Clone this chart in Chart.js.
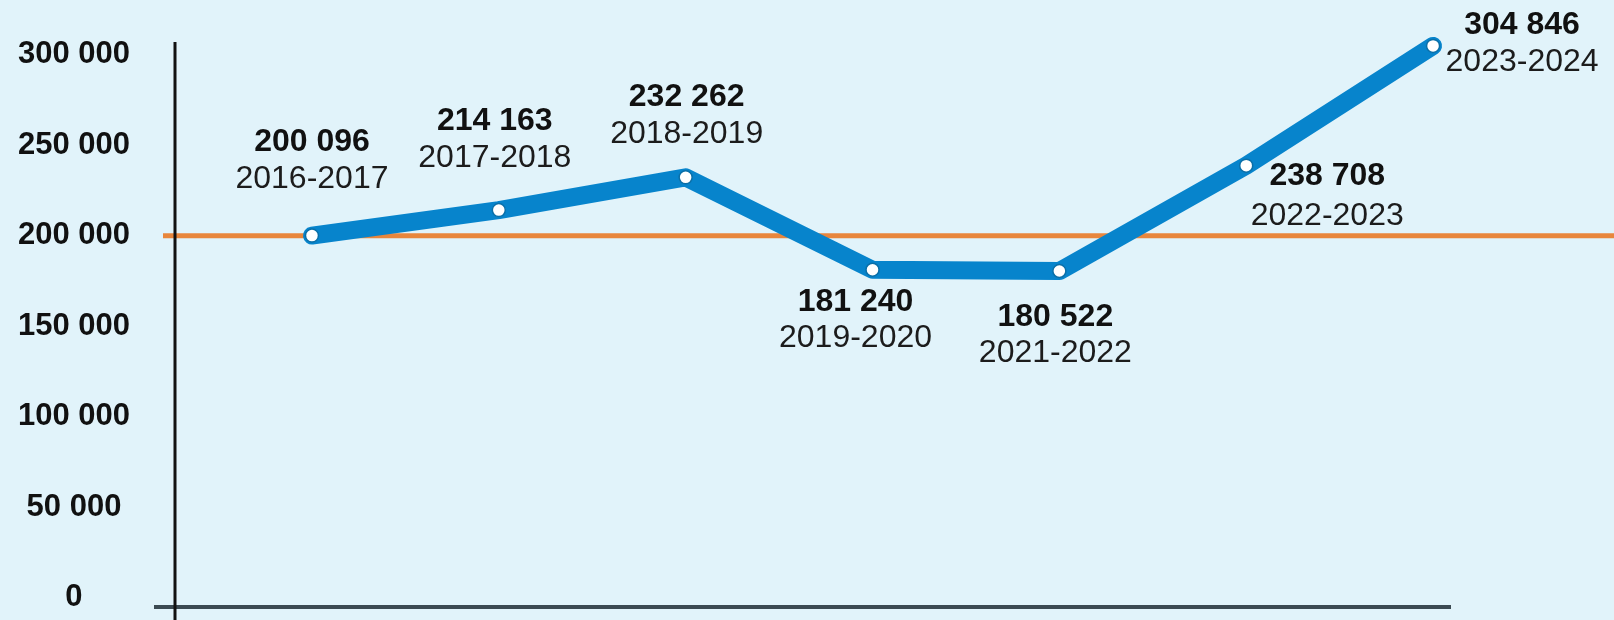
<!DOCTYPE html>
<html>
<head>
<meta charset="utf-8">
<script src="https://cdn.jsdelivr.net/npm/chart.js@4.4.1/dist/chart.umd.min.js"></script>
<style>
  html, body { margin: 0; padding: 0; background: #e1f3fa; }
  #wrap { width: 1614px; height: 620px; }
</style>
</head>
<body>
<div id="wrap"><canvas id="students"></canvas></div>
<script>
const periods = ['2016-2017', '2017-2018', '2018-2019', '2019-2020', '2021-2022', '2022-2023', '2023-2024'];
const totals = [200096, 214163, 232262, 181240, 180522, 238708, 304846];
const yTicks = [0, 50000, 100000, 150000, 200000, 250000, 300000];
const threshold = 200000;

const blue = '#0784cc';
const orange = '#e8863c';
const font = "'Liberation Sans', Arial, Helvetica, sans-serif";

// where each value / period pair sits relative to its point
const labelSpots = [
  { dx: 0, vy: -93, py: -56 },
  { dx: -4, vy: -89, py: -52 },
  { dx: 1, vy: -80, py: -43 },
  { dx: -17, vy: 32, py: 68 },
  { dx: -4, vy: 46, py: 82 },
  { dx: 81, vy: 11, py: 51 },
  { dx: 89, vy: -21, py: 16 }
];

const fmt = n => String(n).replace(/\B(?=(\d{3})+(?!\d))/g, ' ');

const guideLines = {
  id: 'guideLines',
  beforeDatasetsDraw(chart) {
    const { ctx, chartArea: a, scales: { y } } = chart;
    ctx.save();
    // 200 000 line
    const ty = y.getPixelForValue(threshold);
    ctx.strokeStyle = orange;
    ctx.lineWidth = 5;
    ctx.beginPath(); ctx.moveTo(a.left - 12, ty); ctx.lineTo(chart.width, ty); ctx.stroke();
    // axes
    ctx.strokeStyle = '#3b4a52';
    ctx.lineWidth = 4;
    ctx.beginPath(); ctx.moveTo(a.left - 21, a.bottom); ctx.lineTo(a.right, a.bottom); ctx.stroke();
    ctx.strokeStyle = '#111';
    ctx.lineWidth = 3;
    ctx.beginPath(); ctx.moveTo(a.left, a.top); ctx.lineTo(a.left, chart.height); ctx.stroke();
    ctx.restore();
  }
};

const pointLabels = {
  id: 'pointLabels',
  afterDatasetsDraw(chart) {
    const { ctx } = chart;
    const pts = chart.getDatasetMeta(0).data;
    ctx.save();
    ctx.textAlign = 'center';
    ctx.textBaseline = 'middle';
    pts.forEach((p, i) => {
      const s = labelSpots[i];
      ctx.fillStyle = '#111';
      ctx.font = 'bold 32px ' + font;
      ctx.fillText(fmt(totals[i]), p.x + s.dx, p.y + s.vy);
      ctx.fillStyle = '#1c1c1c';
      ctx.font = '32px ' + font;
      ctx.fillText(periods[i], p.x + s.dx, p.y + s.py);
    });
    ctx.restore();
  }
};

new Chart(document.getElementById('students'), {
  type: 'line',
  data: {
    datasets: [{
      data: totals.map((v, i) => ({ x: i, y: v })),
      borderColor: blue,
      borderWidth: 18,
      borderJoinStyle: 'round',
      borderCapStyle: 'round',
      pointRadius: 6.5,
      pointBackgroundColor: '#fff',
      pointBorderColor: '#0a6fa8',
      pointBorderWidth: 1.5,
      tension: 0,
      clip: false
    }]
  },
  options: {
    responsive: true,
    maintainAspectRatio: false,
    animation: false,
    layout: { padding: { top: 42, right: 163, bottom: 13, left: 0 } },
    plugins: { legend: { display: false }, tooltip: { enabled: false } },
    scales: {
      x: { type: 'linear', display: false, min: -0.733, max: 6.096 },
      y: {
        min: -5000,
        max: 307000,
        afterBuildTicks: s => { s.ticks = yTicks.map(v => ({ value: v })); },
        afterFit: s => { s.width = 175; s.paddingTop = 0; s.paddingBottom = 0; },
        border: { display: false },
        grid: { display: false, drawTicks: false },
        ticks: {
          padding: 45,
          crossAlign: 'center',
          color: '#111',
          font: { family: font, size: 31, weight: 'bold' },
          callback: v => fmt(v)
        }
      }
    }
  },
  plugins: [guideLines, pointLabels]
});
</script>
</body>
</html>
